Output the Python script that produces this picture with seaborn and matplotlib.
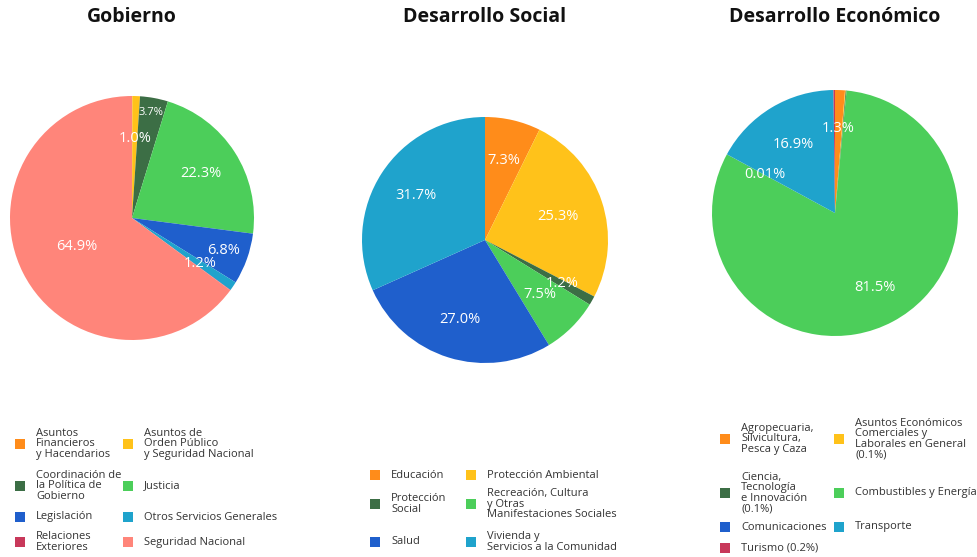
import matplotlib
matplotlib.use('Agg')
import numpy as np
import seaborn as sns
import matplotlib.pyplot as plt
from matplotlib.patches import Rectangle

###############################################################################
# Data
###############################################################################
TITLES = ['Gobierno', 'Desarrollo Social', 'Desarrollo Económico']

GOB_CATS = [
    'Asuntos\nFinancieros\ny Hacendarios', 'Asuntos de\nOrden Público\ny Seguridad Nacional',
    'Coordinación de\nla Política de\nGobierno', 'Justicia',
    'Legislación', 'Otros Servicios Generales',
    'Relaciones\nExteriores', 'Seguridad Nacional'
]
GOB_VALS = [0.05, 1.0, 3.7, 22.3, 6.8, 1.2, 0.05, 64.9]
GOB_SHOW = [False, True, True, True, True, True, False, True]

SOC_CATS = [
    'Educación', 'Protección Ambiental',
    'Protección\nSocial', 'Recreación, Cultura\ny Otras\nManifestaciones Sociales',
    'Salud', 'Vivienda y\nServicios a la Comunidad'
]
SOC_VALS = [7.3, 25.3, 1.2, 7.5, 27.0, 31.7]
SOC_SHOW = [True, True, True, True, True, True]

ECO_CATS = [
    'Agropecuaria,\nSilvicultura,\nPesca y Caza',
    'Asuntos Económicos\nComerciales y\nLaborales en General\n(0.1%)',
    'Ciencia,\nTecnología\ne Innovación\n(0.1%)', 'Combustibles y Energía',
    'Comunicaciones', 'Transporte',
    'Turismo (0.2%)'
]
ECO_VALS = [1.3, 0.1, 0.1, 81.5, 0.01, 16.9, 0.2]
ECO_SHOW = [True, False, False, True, True, True, False]

###############################################################################
# Style
###############################################################################
sns.set_theme(style='white')
plt.rcParams['font.family'] = ['Open Sans', 'DejaVu Sans']

GOB_CLRS = ['#FF8C1A', '#FFC21A', '#3C6E45', '#4CCE5A', '#1F5FCC', '#1FA3CC', '#C8385A', '#FF857A']
SOC_CLRS = ['#FF8C1A', '#FFC21A', '#3C6E45', '#4CCE5A', '#1F5FCC', '#1FA3CC']
ECO_CLRS = ['#FF8C1A', '#FFC21A', '#3C6E45', '#4CCE5A', '#1F5FCC', '#1FA3CC', '#C8385A']

# label radius (fraction of pie radius) per slice
GOB_LR = [.6, .65, .88, .67, .8, .67, .6, .51]
SOC_LR = [.66, .62, .72, .63, .68, .67]
ECO_LR = [.69, .6, .6, .69, .65, .65, .6]

# pie boxes in pixels: (center x, center y, radius)
PIES = [(132, 218, 122), (485, 240, 123), (835, 213, 123)]
# legend layout in pixels
LEG_COLS = [(20, 36, 128, 144), (375, 391, 471, 487), (725, 741, 839, 855)]
LEG_ROWS = [(444, 486, 517, 542), (475, 504, 542), (439, 493, 527, 548)]

W, H = 978, 557
fig = plt.figure(figsize=(W / 100, H / 100), dpi=100)

charts = [
    (GOB_CATS, GOB_VALS, GOB_SHOW, GOB_CLRS, GOB_LR),
    (SOC_CATS, SOC_VALS, SOC_SHOW, SOC_CLRS, SOC_LR),
    (ECO_CATS, ECO_VALS, ECO_SHOW, ECO_CLRS, ECO_LR),
]

ov = fig.add_axes([0, 0, 1, 1])
ov.set_xlim(0, W)
ov.set_ylim(H, 0)
ov.axis('off')

for i, (cats, vals, show, clrs, lrs) in enumerate(charts):
    cx, cy, r = PIES[i]
    ax = fig.add_axes([(cx - r) / W, 1 - (cy + r) / H, 2 * r / W, 2 * r / H])
    wedges, _ = ax.pie(vals, colors=clrs, startangle=90, counterclock=False,
                       wedgeprops=dict(linewidth=0))
    ax.set_xlim(-1, 1)
    ax.set_ylim(-1, 1)
    ax.axis('off')
    for w, v, s, lr in zip(wedges, vals, show, lrs):
        if not s:
            continue
        ang = np.deg2rad((w.theta1 + w.theta2) / 2)
        txt = '{:.1f}%'.format(v) if v >= 0.1 else '{:.2f}%'.format(v)
        fs = 8 if (i == 0 and 3 < v < 5) else 10.5
        ax.text(lr * np.cos(ang), lr * np.sin(ang), txt, color='white',
                ha='center', va='center', fontsize=fs)
    fig.text(cx / W, 1 - 17 / H, TITLES[i], ha='center', va='center',
             fontsize=14, fontweight='bold', color='#111111')
    # legend
    sx1, tx1, sx2, tx2 = LEG_COLS[i]
    for j, (c, col) in enumerate(zip(cats, clrs)):
        row = LEG_ROWS[i][j // 2]
        sx, tx = (sx1, tx1) if j % 2 == 0 else (sx2, tx2)
        ov.add_patch(Rectangle((sx - 5, row - 5), 10, 10, color=col, lw=0))
        ov.text(tx, row, c, ha='left', va='center', fontsize=8,
                color='#333333', linespacing=0.95)

fig.savefig('out.png', dpi=100)
